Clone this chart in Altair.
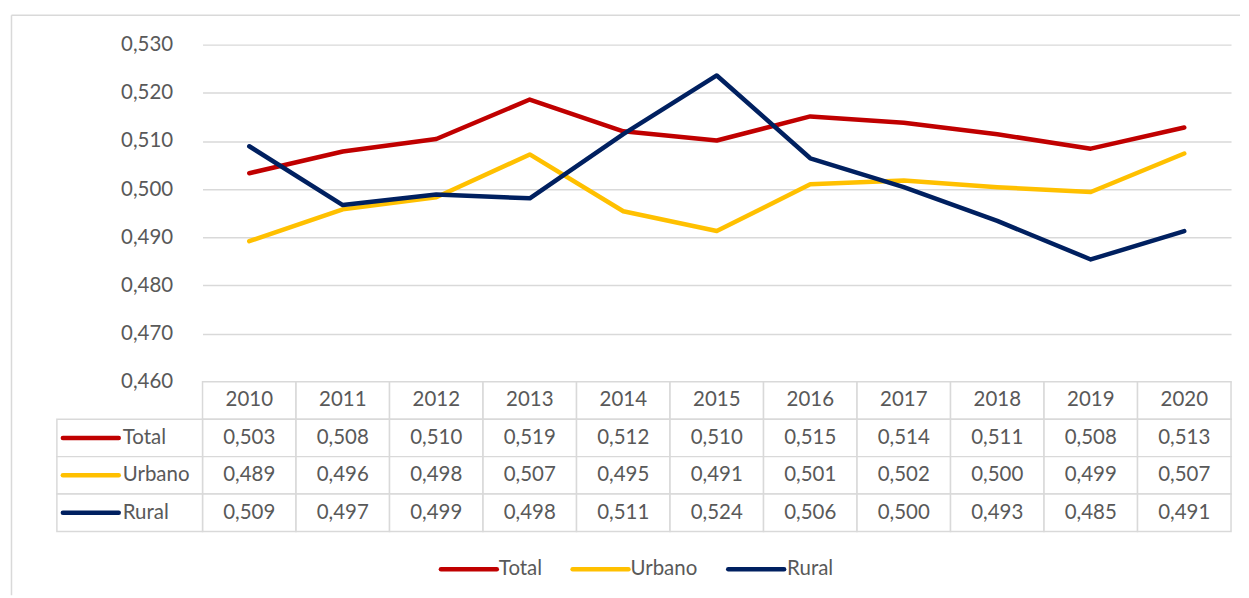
import altair as alt
import pandas as pd

years = [str(y) for y in range(2010, 2021)]
series = ["Total", "Urbano", "Rural"]
colors = ["#C00000", "#FFC000", "#002060"]
total = [0.5033, 0.5078, 0.5104, 0.5186, 0.5120, 0.5101, 0.5151, 0.5138, 0.5114, 0.5084, 0.5128]
urbano = [0.4892, 0.4958, 0.4983, 0.5072, 0.4954, 0.4913, 0.5010, 0.5018, 0.5004, 0.4994, 0.5074]
rural = [0.5089, 0.4967, 0.4989, 0.4981, 0.5114, 0.5236, 0.5064, 0.5004, 0.4934, 0.4854, 0.4913]
y_ticks = [0.46, 0.47, 0.48, 0.49, 0.50, 0.51, 0.52, 0.53]

values = {"Total": total, "Urbano": urbano, "Rural": rural}
rows = []
for s in series:
    for yr, v in zip(years, values[s]):
        rows.append({"year": yr, "series": s, "row": s, "value": v,
                     "label": f"{v:.3f}".replace(".", ",")})
df = pd.DataFrame(rows)

FONT = "Lato"
FS = 20.5
TXT = "#595959"
GRID = "#d9d9d9"
W, H, TH = 1031, 338, 150

color = alt.Color("series:N", scale=alt.Scale(domain=series, range=colors), legend=None)

# ---- line panel ----
xline = alt.X("year:N", scale=alt.Scale(type="point", padding=0.5, domain=years), axis=None)
lines = alt.Chart(df).mark_line(strokeWidth=4.5, strokeJoin="round", strokeCap="round").encode(
    x=xline,
    y=alt.Y("value:Q",
            scale=alt.Scale(domain=[0.46, 0.53], nice=False, zero=False),
            axis=alt.Axis(values=y_ticks, title=None, domain=False, ticks=False,
                          grid=True, gridColor=GRID, gridWidth=1.5,
                          labelExpr="replace(format(datum.value, '.3f'), '.', ',')",
                          labelPadding=30, labelFont=FONT, labelFontSize=FS, labelColor=TXT)),
    color=color,
)

one = pd.DataFrame({"k": [0]})
frame_top = alt.Chart(one).mark_rule(color=GRID, strokeWidth=1.5).encode(
    x=alt.value(-191.5), x2=alt.value(1040), y=alt.value(-29.5))
frame_left = alt.Chart(one).mark_rule(color=GRID, strokeWidth=1.5).encode(
    x=alt.value(-191.5), y=alt.value(-29.5), y2=alt.value(552))

top = alt.layer(frame_top, frame_left, lines).properties(width=W, height=H)

# ---- table panel ----
row_domain = ["hdr"] + series
xtab = alt.X("year:N", scale=alt.Scale(type="band", domain=years, paddingInner=0, paddingOuter=0), axis=None)
ytab = alt.Y("row:N", scale=alt.Scale(type="band", domain=row_domain, paddingInner=0, paddingOuter=0), axis=None)

cells_df = pd.DataFrame([{"year": yr, "row": r} for r in row_domain for yr in years])
cells = alt.Chart(cells_df).mark_rect(fill="white", stroke=GRID, strokeWidth=1.5).encode(x=xtab, y=ytab)

lab_df = pd.DataFrame({"row": series, "series": series})
label_cells = alt.Chart(lab_df).mark_rect(fill="white", stroke=GRID, strokeWidth=1.5).encode(
    x=alt.value(-146), x2=alt.value(0), y=ytab)

hdr_df = pd.DataFrame({"year": years, "row": ["hdr"] * len(years)})
hdr_text = alt.Chart(hdr_df).mark_text(font=FONT, fontSize=FS, color=TXT, baseline="middle").encode(
    x=xtab, y=ytab, text="year:N")
val_text = alt.Chart(df).mark_text(font=FONT, fontSize=FS, color=TXT, baseline="middle").encode(
    x=xtab, y=ytab, text="label:N")
row_text = alt.Chart(lab_df).mark_text(font=FONT, fontSize=FS, color=TXT, align="left", baseline="middle").encode(
    x=alt.value(-80), y=ytab, text="row:N")
swatches = alt.Chart(lab_df).mark_rule(strokeWidth=4.5, strokeCap="round").encode(
    x=alt.value(-140), x2=alt.value(-84), y=ytab, color=color)

# ---- legend (bottom) ----
leg_pos = [(239, 297), (371, 429), (527, 586)]
LEG_Y = 188
legend_layers = []
for s, c, (sx, tx) in zip(series, colors, leg_pos):
    legend_layers.append(alt.Chart(one).mark_rule(strokeWidth=4.5, strokeCap="round", color=c).encode(
        x=alt.value(sx), x2=alt.value(sx + 56), y=alt.value(LEG_Y)))
    legend_layers.append(alt.Chart(one).mark_text(text=s, font=FONT, fontSize=FS, color=TXT,
                                                  align="left", baseline="middle").encode(
        x=alt.value(tx), y=alt.value(LEG_Y)))

table = alt.layer(cells, label_cells, hdr_text, val_text, row_text, swatches, *legend_layers).properties(
    width=W, height=TH)

chart = alt.vconcat(top, table, spacing=0, bounds="flush").properties(
    padding={"left": 2, "top": 5, "right": 0, "bottom": 0},
    background="white",
).configure_view(stroke=None)

chart.save("out.html", embed_options={"renderer": "svg", "actions": False})
